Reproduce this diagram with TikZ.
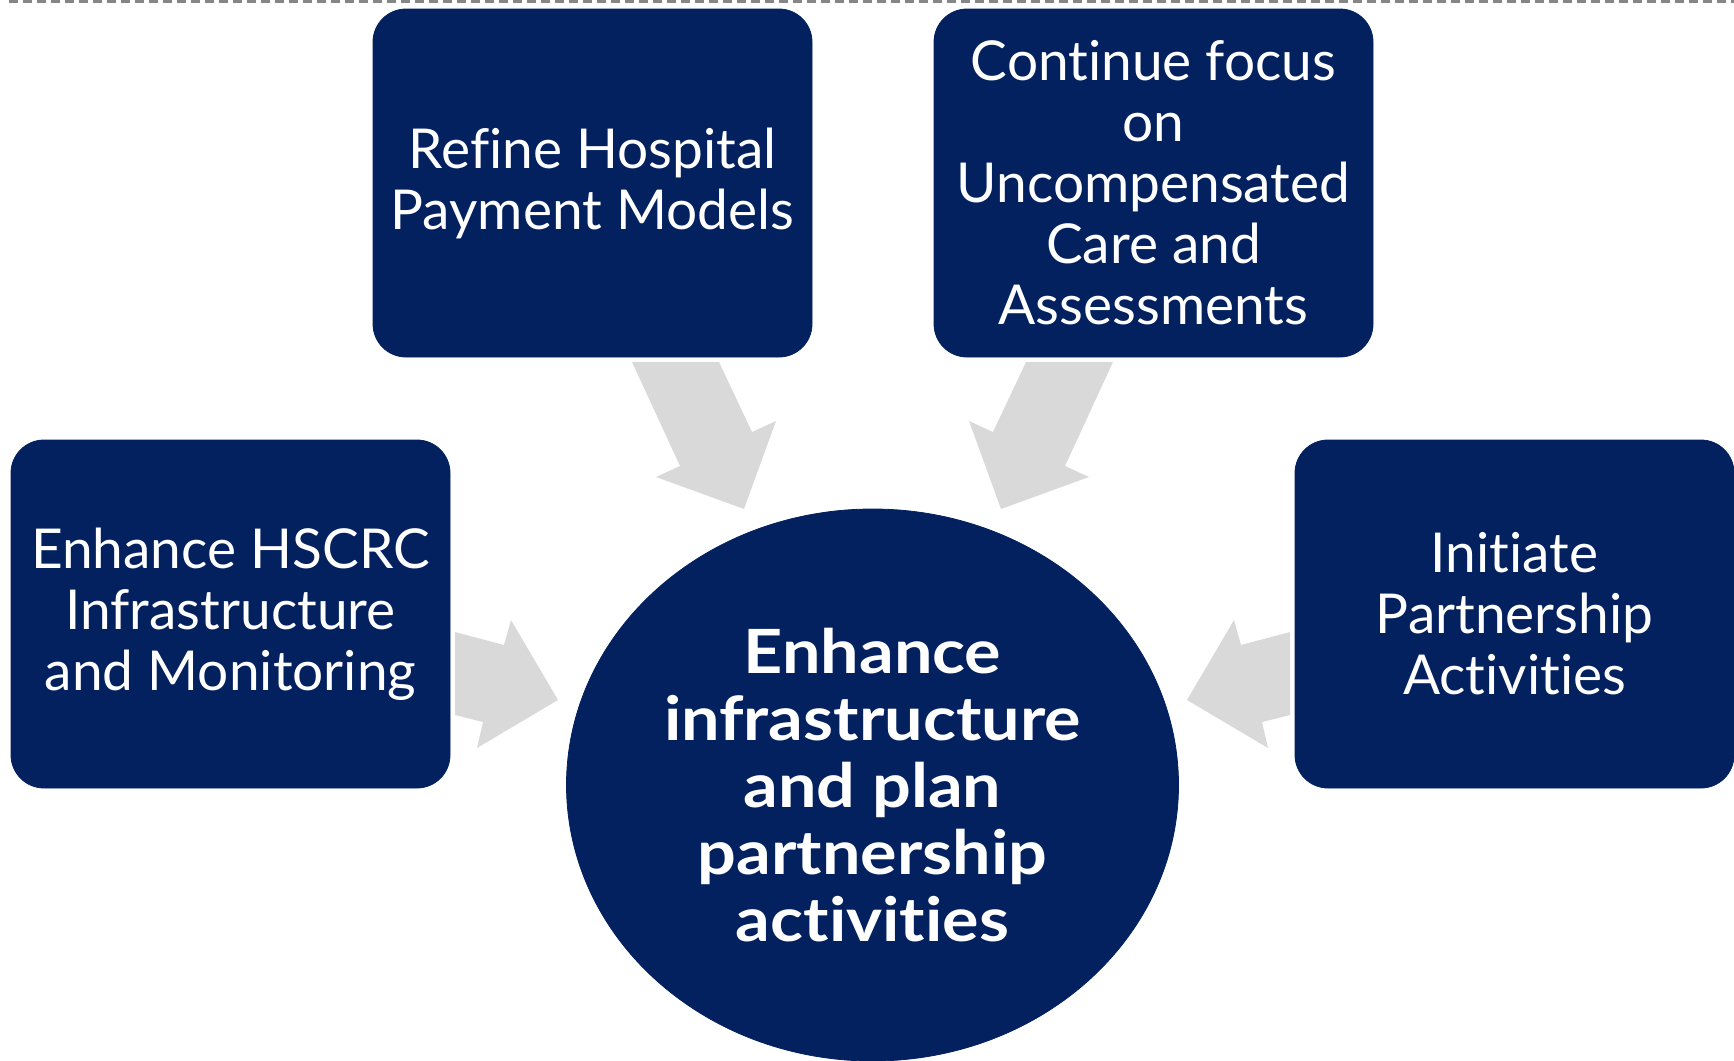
\documentclass[tikz,border=0pt]{standalone}
\usepackage{fontspec}
\setmainfont{Lato}[Ligatures=NoCommon]
\newfontfamily\centrefont{Lato}[Ligatures=NoCommon, BoldFeatures={FakeStretch=1.12}]
\usepackage{xcolor}
\usepackage{tikz}
\usetikzlibrary{shapes,arrows,positioning,calc}

\definecolor{navy}{HTML}{03215F}
\definecolor{arrowgray}{HTML}{D9D9D9}
\definecolor{rulegray}{HTML}{868686}

\tikzset{
    goalbox/.style={rectangle, rounded corners=16.5pt, fill=navy, draw=navy,
        minimum width=219.5pt, minimum height=174pt, inner sep=0pt,
        text=white, align=center, font=\fontsize{27.5}{30.5}\selectfont},
    goalcircle/.style={ellipse, fill=navy, draw=navy, inner sep=0pt,
        minimum width=306pt, minimum height=276pt,
        text=white, align=center, font=\centrefont\fontsize{30.5}{33.5}\selectfont\bfseries},
    bigarrow/.style={fill=arrowgray}
}

\begin{document}
\begin{tikzpicture}[x=0.5pt, y=-0.5pt]
    \useasboundingbox (0,0) rectangle (1734,1060);

    % Dashed rule along the top
    \draw[rulegray, line width=1.5pt, dash pattern=on 4.25pt off 2.75pt] (9,1.5) -- (1734,1.5);

    % Block arrows pointing at the centre
    \fill[bigarrow] (632,362) -- (680,466) -- (656,477) -- (744,509) -- (776,421) -- (752,432) -- (719,362) -- cycle;
    \fill[bigarrow] (1113,362) -- (1065,466) -- (1089,477) -- (1001,509) -- (969,421) -- (993,432) -- (1026,362) -- cycle;
    \fill[bigarrow] (455,632) -- (504,645) -- (511,620) -- (558,700) -- (477,748) -- (483,722) -- (455,715) -- cycle;
    \fill[bigarrow] (1290,632) -- (1241,645) -- (1234,620) -- (1187,700) -- (1268,748) -- (1262,722) -- (1290,715) -- cycle;

    % Surrounding boxes
    \node[goalbox] (refine) at (592.5,183) {Refine Hospital\\Payment Models};
    \node[goalbox] (uncomp) at (1153.5,183) {Continue focus\\on\\Uncompensated\\Care and\\Assessments};
    \node[goalbox] (hscrc) at (230.5,614) {Enhance HSCRC\\Infrastructure\\and Monitoring};
    \node[goalbox] (partner) at (1514.5,614) {Initiate\\Partnership\\Activities};

    % Centre
    \node[goalcircle] (goal) at (872.5,785) {Enhance\\infrastructure\\and plan\\partnership\\activities};
\end{tikzpicture}
\end{document}
